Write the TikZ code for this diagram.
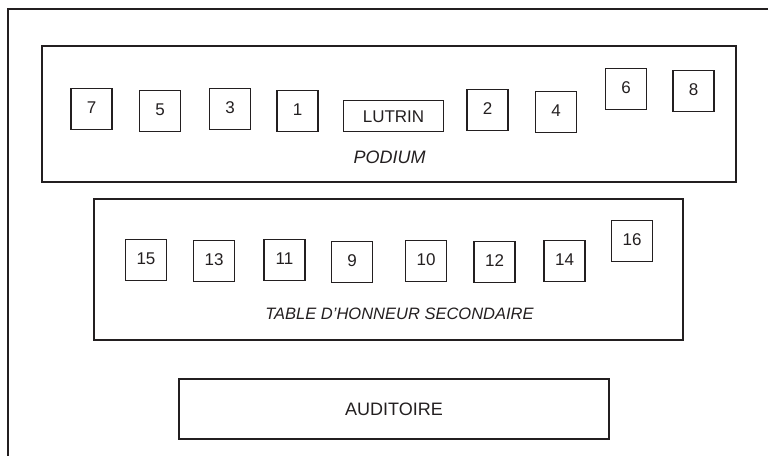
\documentclass[tikz,border=0pt]{standalone}
\usepackage{fontspec}
\setmainfont{Liberation Sans}
\definecolor{Ink}{HTML}{231F20}
\usetikzlibrary{positioning}
\tikzset{
  zone/.style={draw=Ink,line width=1.6pt,inner sep=0pt},
  seat/.style={draw=Ink,line width=1.3pt,minimum width=41pt,minimum height=41pt,
    inner sep=0pt,text=Ink,text height=12pt,text depth=4pt,
    font=\fontsize{17}{19}\selectfont},
  zonelabel/.style={text=Ink,inner sep=0pt,font=\fontsize{16.5}{19}\selectfont\itshape}
}

\begin{document}
\begin{tikzpicture}[x=1pt,y=-1pt]
  \useasboundingbox (0,0) rectangle (768,455);
  \clip (0,0) rectangle (768,455);
  % salle
  \draw[Ink,line width=2pt] (8,470) -- (8,9) -- (780,9);
  % podium
  \node[zone,minimum width=694pt,minimum height=136pt] (podium) at (389,114) {};
  \node[zonelabel,font=\fontsize{18}{20}\selectfont\itshape] (podiumlbl) at (389.5,157) {PODIUM};
  \node[seat,minimum width=100pt,minimum height=31pt,text depth=0pt] (lutrin) at (393.5,116) {LUTRIN};
  \foreach \n/\x/\y in {7/91.5/109,5/160/111,3/230/109,1/297.5/111,
                        2/487.5/110,4/556/112,6/626/89,8/693.5/91}
    \node[seat] (s\n) at (\x,\y) {\n};
  % table d'honneur secondaire
  \node[zone,minimum width=589pt,minimum height=141pt] (table) at (388.5,269.5) {};
  \node[zonelabel] (tablelbl) at (399.5,314) {TABLE D’HONNEUR SECONDAIRE};
  \foreach \n/\x/\y in {15/146/260,13/214/261,11/284.5/260,9/352/262,
                        10/426/261,12/494.5/262,14/564.5/261,16/632/241}
    \node[seat] (s\n) at (\x,\y) {\n};
  % auditoire
  \node[zone,minimum width=430pt,minimum height=60pt,text=Ink,
    font=\fontsize{18}{20}\selectfont] (auditoire) at (394,409) {AUDITOIRE};
\end{tikzpicture}
\end{document}
